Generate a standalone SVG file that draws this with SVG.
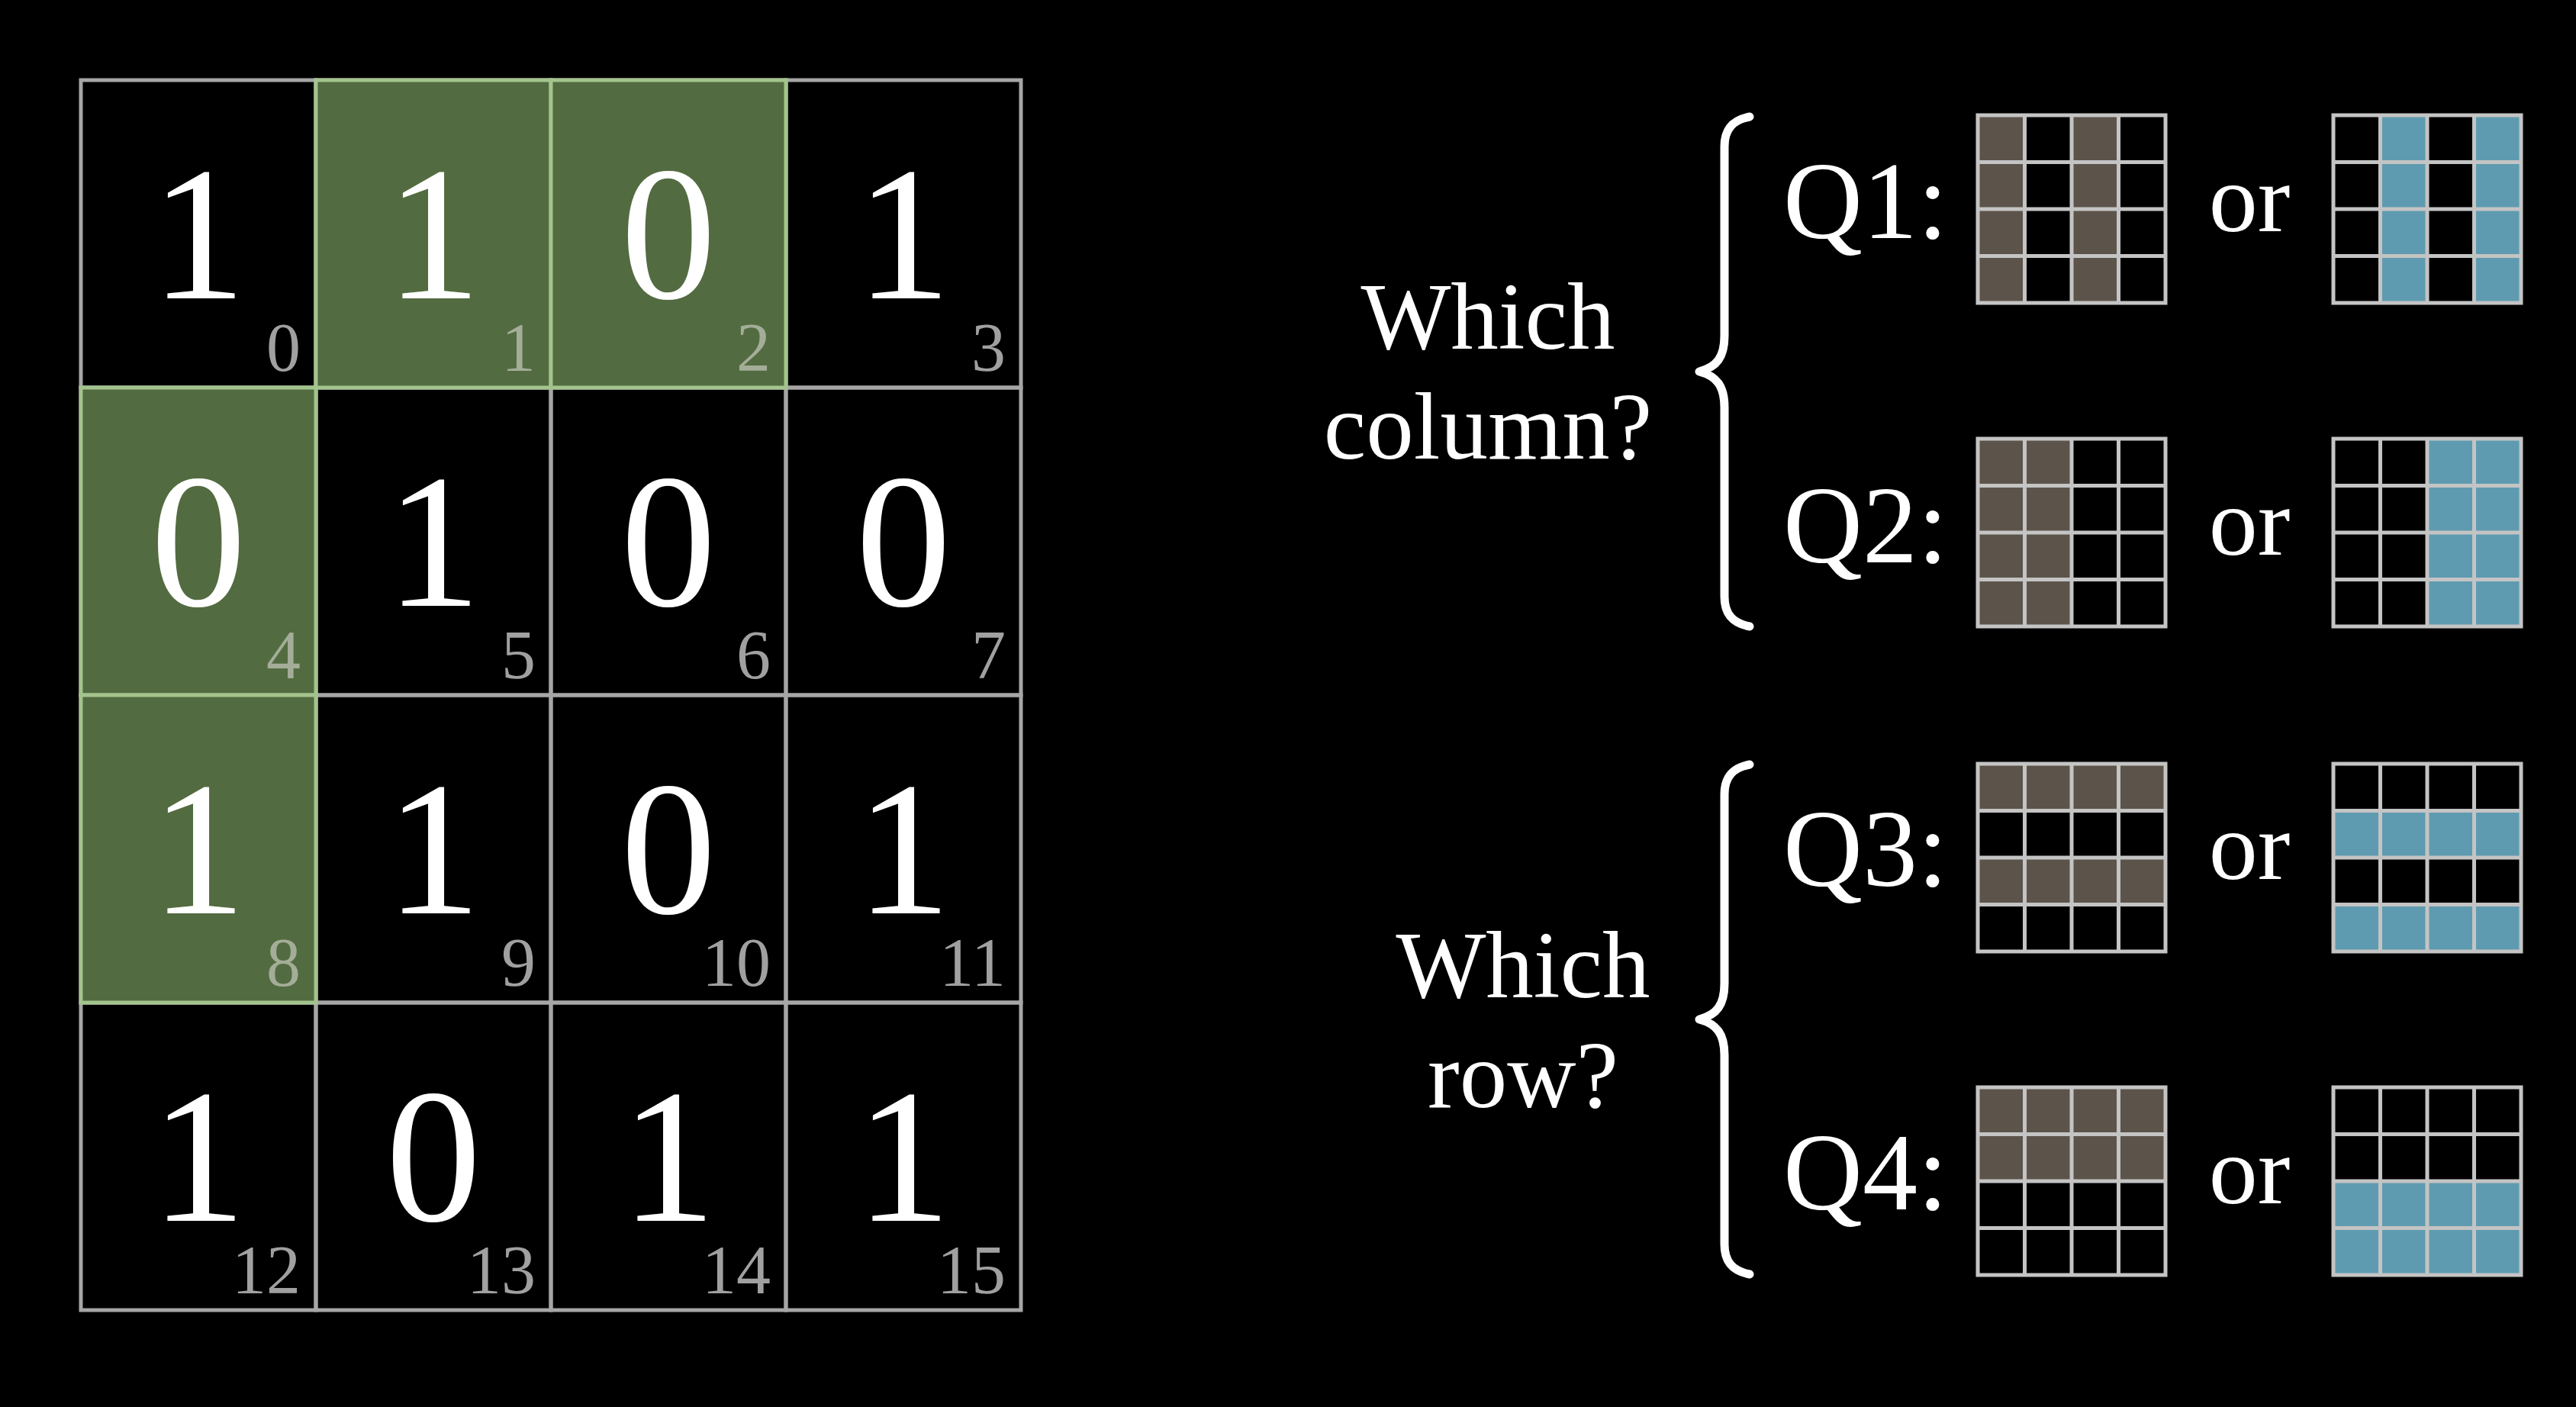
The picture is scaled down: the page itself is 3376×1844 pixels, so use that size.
<svg xmlns="http://www.w3.org/2000/svg" width="3376" height="1844" viewBox="0 0 3376 1844">
<style>
.cell{fill:none;stroke:#a6a6a6;stroke-width:5}
.gcell{fill:#536b40;stroke:#a3c48d;stroke-width:5}
.big{font-family:"Liberation Serif","DejaVu Serif",serif;font-size:250px;fill:#ffffff;text-anchor:middle}
.idx{font-family:"Liberation Serif","DejaVu Serif",serif;font-size:90px;fill:#a0a0a0;text-anchor:end}
.idxg{font-family:"Liberation Serif","DejaVu Serif",serif;font-size:90px;fill:#a3ad98;text-anchor:end}
.lbl{font-family:"Liberation Serif","DejaVu Serif",serif;font-size:125px;fill:#ffffff;text-anchor:middle}
.q{font-family:"Liberation Serif","DejaVu Serif",serif;font-size:144px;fill:#ffffff}
.or{font-family:"Liberation Serif","DejaVu Serif",serif;font-size:128px;fill:#ffffff;text-anchor:middle}
.br{fill:#5c544b}
.bl{fill:#5e9bb0}
.sg{fill:none;stroke:#c4c4c4;stroke-width:5}
.brace{fill:none;stroke:#ffffff;stroke-width:11;stroke-linecap:round;stroke-linejoin:round}
</style>
<rect x="0" y="0" width="3376" height="1844" fill="#000000"/>

<g id="main-grid">
  <g class="cells">
    <rect class="cell" x="106" y="105" width="308" height="403"/>
    <rect class="cell" x="414" y="105" width="308" height="403"/>
    <rect class="cell" x="722" y="105" width="308" height="403"/>
    <rect class="cell" x="1030" y="105" width="308" height="403"/>
    <rect class="cell" x="106" y="508" width="308" height="403"/>
    <rect class="cell" x="414" y="508" width="308" height="403"/>
    <rect class="cell" x="722" y="508" width="308" height="403"/>
    <rect class="cell" x="1030" y="508" width="308" height="403"/>
    <rect class="cell" x="106" y="911" width="308" height="403"/>
    <rect class="cell" x="414" y="911" width="308" height="403"/>
    <rect class="cell" x="722" y="911" width="308" height="403"/>
    <rect class="cell" x="1030" y="911" width="308" height="403"/>
    <rect class="cell" x="106" y="1314" width="308" height="403"/>
    <rect class="cell" x="414" y="1314" width="308" height="403"/>
    <rect class="cell" x="722" y="1314" width="308" height="403"/>
    <rect class="cell" x="1030" y="1314" width="308" height="403"/>
  </g>
  <g class="green">
    <rect class="gcell" x="414" y="105" width="308" height="403"/>
    <rect class="gcell" x="722" y="105" width="308" height="403"/>
    <rect class="gcell" x="106" y="508" width="308" height="403"/>
    <rect class="gcell" x="106" y="911" width="308" height="403"/>
  </g>
  <g class="bits">
    <text class="big" x="260" y="391">1</text>
    <text class="big" x="568" y="391">1</text>
    <text class="big" x="876" y="391">0</text>
    <text class="big" x="1184" y="391">1</text>
    <text class="big" x="260" y="794">0</text>
    <text class="big" x="568" y="794">1</text>
    <text class="big" x="876" y="794">0</text>
    <text class="big" x="1184" y="794">0</text>
    <text class="big" x="260" y="1197">1</text>
    <text class="big" x="568" y="1197">1</text>
    <text class="big" x="876" y="1197">0</text>
    <text class="big" x="1184" y="1197">1</text>
    <text class="big" x="260" y="1600">1</text>
    <text class="big" x="568" y="1600">0</text>
    <text class="big" x="876" y="1600">1</text>
    <text class="big" x="1184" y="1600">1</text>
  </g>
  <g class="indices">
    <text class="idx" x="394" y="486">0</text>
    <text class="idxg" x="702" y="486">1</text>
    <text class="idxg" x="1010" y="486">2</text>
    <text class="idx" x="1318" y="486">3</text>
    <text class="idxg" x="394" y="889">4</text>
    <text class="idx" x="702" y="889">5</text>
    <text class="idx" x="1010" y="889">6</text>
    <text class="idx" x="1318" y="889">7</text>
    <text class="idxg" x="394" y="1292">8</text>
    <text class="idx" x="702" y="1292">9</text>
    <text class="idx" x="1010" y="1292">10</text>
    <text class="idx" x="1318" y="1292">11</text>
    <text class="idx" x="394" y="1695">12</text>
    <text class="idx" x="702" y="1695">13</text>
    <text class="idx" x="1010" y="1695">14</text>
    <text class="idx" x="1318" y="1695">15</text>
  </g>
</g>

<g id="label-column">
  <text class="lbl" x="1950" y="457">Which</text>
  <text class="lbl" x="1950" y="601">column?</text>
</g>
<g id="label-row">
  <text class="lbl" x="1996" y="1307">Which</text>
  <text class="lbl" x="1996" y="1451">row?</text>
</g>

<g id="braces">
  <path class="brace" d="M2293,153 C2272,157 2260,168 2260,192 L2260,440 C2260,468 2250,481 2227,487 C2250,493 2260,506 2260,534 L2260,782 C2260,806 2272,817 2293,821"/>
  <path class="brace" transform="translate(0,849)" d="M2293,153 C2272,157 2260,168 2260,192 L2260,440 C2260,468 2250,481 2227,487 C2250,493 2260,506 2260,534 L2260,782 C2260,806 2272,817 2293,821"/>
</g>

<g id="q1">
  <text class="q" x="2337" y="312">Q1:</text>
  <g id="q1-a">
    <rect class="br" x="2592" y="151" width="61.5" height="246"/>
    <rect class="br" x="2715" y="151" width="61.5" height="246"/>
    <path class="sg" d="M2592,151h246v246h-246z M2653.5,151v246 M2715,151v246 M2776.5,151v246 M2592,212.5h246 M2592,274h246 M2592,335.5h246"/>
  </g>
  <text class="or" x="2948" y="303">or</text>
  <g id="q1-b">
    <rect class="bl" x="3119.5" y="151" width="61.5" height="246"/>
    <rect class="bl" x="3242.5" y="151" width="61.5" height="246"/>
    <path class="sg" d="M3058,151h246v246h-246z M3119.5,151v246 M3181,151v246 M3242.5,151v246 M3058,212.5h246 M3058,274h246 M3058,335.5h246"/>
  </g>
</g>

<g id="q2">
  <text class="q" x="2337" y="737">Q2:</text>
  <g id="q2-a">
    <rect class="br" x="2592" y="575" width="123" height="246"/>
    <path class="sg" d="M2592,575h246v246h-246z M2653.5,575v246 M2715,575v246 M2776.5,575v246 M2592,636.5h246 M2592,698h246 M2592,759.5h246"/>
  </g>
  <text class="or" x="2948" y="727">or</text>
  <g id="q2-b">
    <rect class="bl" x="3181" y="575" width="123" height="246"/>
    <path class="sg" d="M3058,575h246v246h-246z M3119.5,575v246 M3181,575v246 M3242.5,575v246 M3058,636.5h246 M3058,698h246 M3058,759.5h246"/>
  </g>
</g>

<g id="q3">
  <text class="q" x="2337" y="1161">Q3:</text>
  <g id="q3-a">
    <rect class="br" x="2592" y="1001" width="246" height="61.5"/>
    <rect class="br" x="2592" y="1124" width="246" height="61.5"/>
    <path class="sg" d="M2592,1001h246v246h-246z M2653.5,1001v246 M2715,1001v246 M2776.5,1001v246 M2592,1062.5h246 M2592,1124h246 M2592,1185.5h246"/>
  </g>
  <text class="or" x="2948" y="1152">or</text>
  <g id="q3-b">
    <rect class="bl" x="3058" y="1062.5" width="246" height="61.5"/>
    <rect class="bl" x="3058" y="1185.5" width="246" height="61.5"/>
    <path class="sg" d="M3058,1001h246v246h-246z M3119.5,1001v246 M3181,1001v246 M3242.5,1001v246 M3058,1062.5h246 M3058,1124h246 M3058,1185.5h246"/>
  </g>
</g>

<g id="q4">
  <text class="q" x="2337" y="1585">Q4:</text>
  <g id="q4-a">
    <rect class="br" x="2592" y="1425" width="246" height="123"/>
    <path class="sg" d="M2592,1425h246v246h-246z M2653.5,1425v246 M2715,1425v246 M2776.5,1425v246 M2592,1486.5h246 M2592,1548h246 M2592,1609.5h246"/>
  </g>
  <text class="or" x="2948" y="1577">or</text>
  <g id="q4-b">
    <rect class="bl" x="3058" y="1548" width="246" height="123"/>
    <path class="sg" d="M3058,1425h246v246h-246z M3119.5,1425v246 M3181,1425v246 M3242.5,1425v246 M3058,1486.5h246 M3058,1548h246 M3058,1609.5h246"/>
  </g>
</g>
</svg>
